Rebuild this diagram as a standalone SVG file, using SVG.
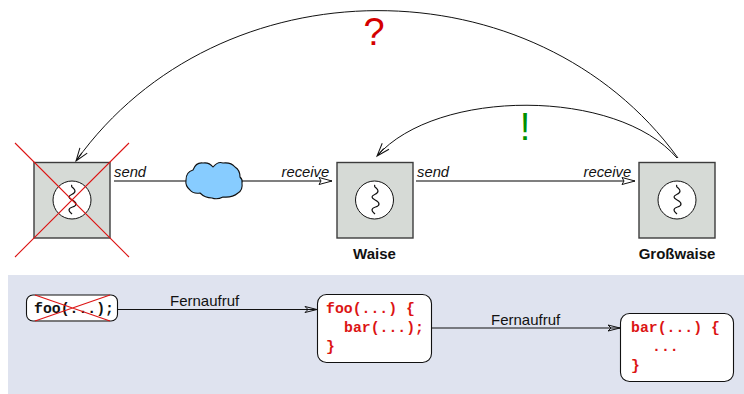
<svg xmlns="http://www.w3.org/2000/svg" width="744" height="394" viewBox="0 0 744 394">
<style>
text{font-family:"Liberation Sans",Arial,sans-serif;fill:#111}
.box{fill:#d6dad6;stroke:#3c3c3c;stroke-width:1.4}
.ring{fill:#fff;stroke:#111;stroke-width:1}
.sq{fill:none;stroke:#111;stroke-width:1.2}
.cross{stroke:#dc1414;stroke-width:1.1;fill:none}
.lbl{font-size:14.8px;font-style:italic}
.name{font-size:15px;font-weight:bold}
.fa{font-size:15px}
.code{font-family:"Liberation Mono","Courier New",monospace;font-weight:bold;font-size:14.8px;fill:#dc1414;white-space:pre}
.card{fill:#fff;stroke:#111;stroke-width:1.1}
.arc{fill:none;stroke:#111;stroke-width:1}
.link{fill:none;stroke:#555;stroke-width:1.3}
.call{fill:none;stroke:#111;stroke-width:1.1}
</style>
<defs>
<marker id="open" markerUnits="userSpaceOnUse" markerWidth="16" markerHeight="12" refX="14" refY="6" orient="auto"><path d="M1,2.500 L14,6 L1,9.500 L3,6 Z" fill="#fff" stroke="#111" stroke-width="1"/></marker>
<marker id="stick" markerUnits="userSpaceOnUse" markerWidth="16" markerHeight="12" refX="14" refY="6" orient="auto"><path d="M1,1.500 L14,6 L1,10.500 M4,6 L14,6" fill="none" stroke="#111" stroke-width="1"/></marker>
<marker id="barb" markerUnits="userSpaceOnUse" markerWidth="16" markerHeight="12" refX="14" refY="6" orient="auto"><path d="M2,3 L14,6 L2,9 L5,6 Z" fill="none" stroke="#111" stroke-width="1"/></marker>
<path id="squig" d="M0,-15 C-2,-13 3,-12 3,-9 C3,-5 -3,-6 -3,-3 C-3,0 4,0 4,4 C4,8 -3,6 -3,10 C-3,12 -1,13 0,14" fill="none" stroke="#111" stroke-width="1.2"/>
</defs>
<rect x="8" y="275" width="736" height="119" fill="#dfe3ef"/>
<g id="connectors">
<path class="arc" d="M678,158 C535,-39 219,-39 76,161" marker-end="url(#stick)"/>
<path class="arc" d="M677,158 C617,88 437,88 377,156" marker-end="url(#stick)"/>
<path class="link" d="M114,181 H186"/>
<path class="link" d="M242,181 H332" marker-end="url(#open)"/>
<path class="link" d="M416,181 H635" marker-end="url(#open)"/>
<path class="call" d="M118,309.500 H317" marker-end="url(#barb)"/>
<path class="call" d="M432,328 H620" marker-end="url(#barb)"/>
</g>
<g id="node-left">
<rect class="box" x="34" y="162.500" width="76" height="75.500"/>
<circle class="ring" cx="72" cy="200" r="19"/>
<use href="#squig" x="72" y="200"/>
<path class="cross" d="M15,143 L129,257 M129,143 L15,257"/>
</g>
<g id="node-cloud">
<path d="M186,180 Q186,172 193,170 Q196,162 203,163 Q209,162 213,167 Q218,161 223,163 Q231,162 235,167 Q240,170 240,177 Q243,180 242,183 Q243,190 238,193 Q232,198 223,197 Q217,200 212,198 Q205,198 200,193 Q193,194 190,190 Q185,186 186,180 Z" fill="#87ccff" stroke="#111" stroke-width="1.1"/>
</g>
<g id="node-waise">
<rect class="box" x="337" y="162.500" width="76" height="75.500"/>
<circle class="ring" cx="374.500" cy="200" r="19"/>
<use href="#squig" x="375" y="200"/>
<text class="name" x="374.500" y="259" text-anchor="middle">Waise</text>
</g>
<g id="node-grosswaise">
<rect class="box" x="639" y="162.500" width="76" height="75.500"/>
<circle class="ring" cx="677" cy="200" r="19"/>
<use href="#squig" x="677" y="200"/>
<text class="name" x="677" y="259" text-anchor="middle">Großwaise</text>
</g>
<text class="lbl" x="114" y="177">send</text>
<text class="lbl" x="281.500" y="177">receive</text>
<text class="lbl" x="417" y="177">send</text>
<text class="lbl" x="583.500" y="177">receive</text>
<text x="374" y="45" font-size="38" text-anchor="middle" style="fill:#d40000">?</text>
<text x="525" y="140" font-size="38" text-anchor="middle" style="fill:#009000">!</text>
<g id="node-foo-call">
<rect class="card" x="26.500" y="295" width="91" height="26" rx="6.500"/>
<path d="M34,321 H110" stroke="#777" stroke-width="1.5"/>
<text class="code" x="34" y="313" style="fill:#111">foo(...);</text>
<path class="cross" d="M35,321 L110,295 M35,295 L110,321"/>
</g>
<g id="node-foo-def">
<rect class="card" x="317.500" y="294.500" width="114" height="68" rx="9"/>
<text class="code" x="326" y="313">foo(...) {</text>
<text class="code" x="344" y="332">bar(...);</text>
<text class="code" x="326" y="351">}</text>
</g>
<g id="node-bar-def">
<rect class="card" x="620.500" y="313.500" width="113" height="68" rx="9"/>
<text class="code" x="631" y="332">bar(...) {</text>
<text class="code" x="652" y="351">...</text>
<text class="code" x="631" y="370">}</text>
</g>
<text class="fa" x="170" y="306">Fernaufruf</text>
<text class="fa" x="491" y="325">Fernaufruf</text>
</svg>
